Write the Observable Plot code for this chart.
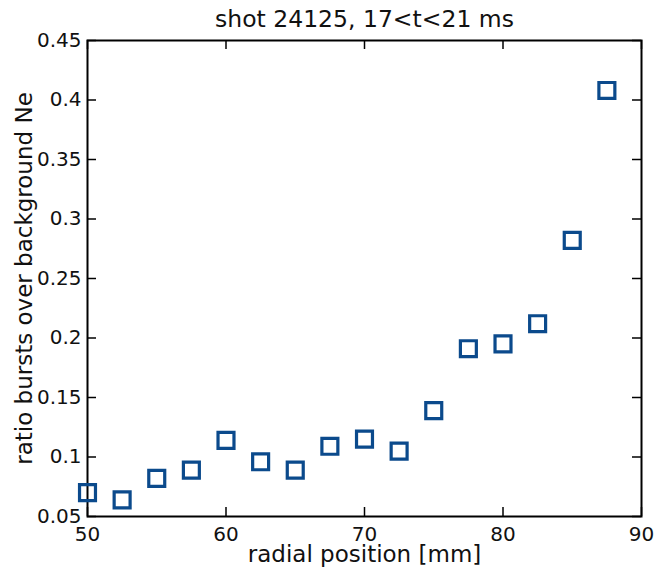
<!DOCTYPE html>
<html>
<head>
<meta charset="utf-8">
<script src="https://cdn.jsdelivr.net/npm/d3@7"></script>
<script src="https://cdn.jsdelivr.net/npm/@observablehq/plot@0.6"></script>
<style>
  html, body { margin: 0; padding: 0; background: #fff; }
  svg { display: block; }
</style>
</head>
<body>
<div id="chart"></div>
<script>
const radial = [50, 52.5, 55, 57.5, 60, 62.5, 65, 67.5, 70, 72.5, 75, 77.5, 80, 82.5, 85, 87.5];
const ratio = [0.070, 0.064, 0.082, 0.089, 0.114, 0.096, 0.089, 0.109, 0.115, 0.105, 0.139, 0.191, 0.195, 0.212, 0.282, 0.408];
const xTicks = [50, 60, 70, 80, 90];
const yTicks = [0.05, 0.1, 0.15, 0.2, 0.25, 0.3, 0.35, 0.4, 0.45];
const yTickLabels = ["0.05", "0.1", "0.15", "0.2", "0.25", "0.3", "0.35", "0.4", "0.45"];
const titleText = "shot 24125, 17<t<21 ms";
const xLabel = "radial position [mm]";
const yLabel = "ratio bursts over background Ne";

const data = radial.map((r, i) => ({r, v: ratio[i]}));

const W = 665, H = 571;
const mL = 87, mR = 24, mT = 40, mB = 55;
const fw = W - mL - mR, fh = H - mT - mB;
const tick = 9;
const font = "DejaVu Sans, sans-serif";

const chart = Plot.plot({
  width: W,
  height: H,
  marginLeft: mL,
  marginRight: mR,
  marginTop: mT,
  marginBottom: mB,
  style: {fontFamily: font, fontSize: "20px", color: "#111", background: "#fff"},
  x: {domain: [50, 90]},
  y: {domain: [0.05, 0.45]},
  marks: [
    Plot.axisX(xTicks, {anchor: "bottom", tickSize: 0, tickPadding: 10, fontSize: 20, label: null}),
    Plot.axisY(yTicks, {anchor: "left", tickSize: 0, tickPadding: 6, fontSize: 20, label: null,
      tickFormat: (d) => yTickLabels[yTicks.indexOf(d)]}),
    // inward ticks on all four sides
    Plot.tickX(xTicks, {x: d => d, insetTop: fh - tick, stroke: "black", strokeWidth: 1.5}),
    Plot.tickX(xTicks, {x: d => d, insetBottom: fh - tick, stroke: "black", strokeWidth: 1.5}),
    Plot.tickY(yTicks, {y: d => d, insetRight: fw - tick, stroke: "black", strokeWidth: 1.5}),
    Plot.tickY(yTicks, {y: d => d, insetLeft: fw - tick, stroke: "black", strokeWidth: 1.5}),
    Plot.frame({stroke: "black", strokeWidth: 2}),
    Plot.dot(data, {x: "r", y: "v", symbol: "square", r: 9, stroke: "#0b4a8c", strokeWidth: 3.2, fill: "none"}),
    Plot.text([titleText], {frameAnchor: "top", textAnchor: "middle", dy: -21, fontSize: 23.5, fill: "#111", lineAnchor: "middle"}),
    Plot.text([xLabel], {frameAnchor: "bottom", textAnchor: "middle", dy: 38, fontSize: 23, fill: "#111", lineAnchor: "middle"}),
    Plot.text([yLabel], {frameAnchor: "left", textAnchor: "middle", dx: -63, rotate: -90, fontSize: 23, fill: "#111", lineAnchor: "middle"})
  ]
});

document.getElementById("chart").appendChild(chart);
</script>
</body>
</html>
